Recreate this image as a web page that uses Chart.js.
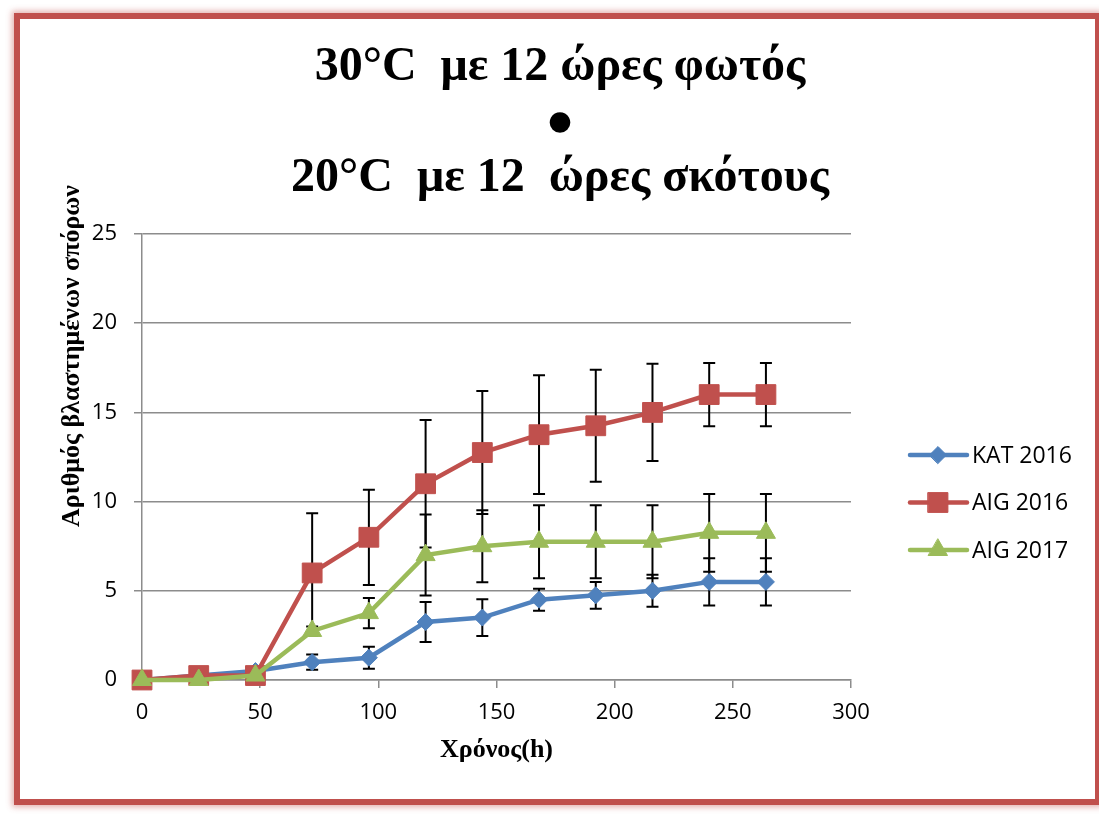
<!DOCTYPE html>
<html>
<head>
<meta charset="utf-8">
<script src="https://cdn.jsdelivr.net/npm/chart.js@4.4.0/dist/chart.umd.min.js"></script>
<style>
  html, body { margin: 0; padding: 0; background: #fff; }
  #wrap { position: relative; width: 1099px; height: 814px; overflow: hidden; }
  #frame {
    position: absolute; left: 14px; top: 13px; width: 1087px; height: 792px;
    box-sizing: border-box; border: 6px solid #c0504d;
    box-shadow: 0 0 6px 2px rgba(192, 80, 77, 0.45);
    pointer-events: none;
  }
  canvas { position: absolute; left: 0; top: 0; }
</style>
</head>
<body>
<div id="wrap">
  <canvas id="chart" width="1099" height="814"></canvas>
  <div id="frame"></div>
</div>
<script>
// time points (h)
const hours = [0, 24, 48, 72, 96, 120, 144, 168, 192, 216, 240, 264];

const seriesNames = ['KAT 2016', 'AIG 2016', 'AIG 2017'];
const seriesColors = ['#4f81bd', '#c0504d', '#9bbb59'];

// mean values
const kat2016 = [0, 0.25, 0.5, 1, 1.25, 3.25, 3.5, 4.5, 4.75, 5, 5.5, 5.5];
const aig2016 = [0, 0.25, 0.25, 6, 8, 11, 12.75, 13.75, 14.25, 15, 16, 16];
const aig2017 = [0, 0, 0.25, 2.75, 3.75, 7, 7.5, 7.75, 7.75, 7.75, 8.25, 8.25];

// error bar sizes (+/-)
const kat2016Err = [0, 0, 0, 0.43, 0.62, 1.12, 1.03, 0.62, 0.75, 0.9, 1.32, 1.32];
const aig2016Err = [0, 0, 0, 3.34, 2.67, 3.57, 3.45, 3.33, 3.14, 2.73, 1.77, 1.77];
const aig2017Err = [0, 0, 0, 0.25, 0.85, 2.27, 2.02, 2.05, 2.05, 2.05, 2.18, 2.18];

const xTicks = [0, 50, 100, 150, 200, 250, 300];
const yTicks = [0, 5, 10, 15, 20, 25];

const titleLines = ['30°C  με 12 ώρες φωτός', '●', '20°C  με 12  ώρες σκότους'];
const xTitle = 'Χρόνος(h)';
const yTitle = 'Αριθμός βλαστημένων σπόρων';

const gridColor = '#8c8c8c';
const tickFont = { family: 'Open Sans', size: 22 };

function toPoints(values) {
    return values.map((v, i) => ({ x: hours[i], y: v }));
}

// error bars, drawn under the lines and markers
const errorBars = {
    id: 'errorBars',
    beforeDatasetsDraw(chart) {
        const ctx = chart.ctx;
        const xs = chart.scales.x;
        const ys = chart.scales.y;
        ctx.save();
        ctx.strokeStyle = '#000';
        ctx.lineWidth = 2;
        chart.data.datasets.forEach(ds => {
            ds.errors.forEach((e, i) => {
                if (!e) return;
                const pt = ds.data[i];
                const px = xs.getPixelForValue(pt.x);
                const top = ys.getPixelForValue(pt.y + e);
                const bot = ys.getPixelForValue(pt.y - e);
                ctx.beginPath();
                ctx.moveTo(px, top);
                ctx.lineTo(px, bot);
                ctx.moveTo(px - 6, top);
                ctx.lineTo(px + 6, top);
                ctx.moveTo(px - 6, bot);
                ctx.lineTo(px + 6, bot);
                ctx.stroke();
            });
        });
        ctx.restore();
    }
};

// y axis title (sits higher than the axis centre) and the legend on the right
const extras = {
    id: 'extras',
    afterDraw(chart) {
        const ctx = chart.ctx;
        const area = chart.chartArea;

        ctx.save();
        ctx.translate(area.left - 70, area.top + 122);
        ctx.rotate(-Math.PI / 2);
        ctx.font = 'bold 26px "Liberation Serif"';
        ctx.fillStyle = '#000';
        ctx.textAlign = 'center';
        ctx.textBaseline = 'middle';
        ctx.fillText(yTitle, 0, 0);
        ctx.restore();

        const x0 = area.right + 59;
        chart.data.datasets.forEach((ds, i) => {
            const y = area.top + 221 + i * 47.5;
            ctx.save();
            ctx.strokeStyle = ds.borderColor;
            ctx.lineWidth = 4.5;
            ctx.lineCap = 'round';
            ctx.beginPath();
            ctx.moveTo(x0, y);
            ctx.lineTo(x0 + 57, y);
            ctx.stroke();
            ctx.fillStyle = ds.borderColor;
            ctx.lineWidth = 1;
            Chart.helpers.drawPoint(ctx, {
                pointStyle: ds.pointStyle,
                radius: ds.pointRadius,
                rotation: 0,
                borderWidth: 1
            }, x0 + 28, y);
            ctx.font = '23px "Open Sans"';
            ctx.fillStyle = '#000';
            ctx.textAlign = 'left';
            ctx.textBaseline = 'middle';
            ctx.fillText(ds.label, x0 + 62, y + 1);
            ctx.restore();
        });
    }
};

function makeDataset(i, values, errors, style, radius, order) {
    return {
        label: seriesNames[i],
        data: toPoints(values),
        errors: errors,
        borderColor: seriesColors[i],
        backgroundColor: seriesColors[i],
        pointBackgroundColor: seriesColors[i],
        pointBorderColor: seriesColors[i],
        borderWidth: 4.5,
        pointStyle: style,
        pointRadius: radius,
        pointBorderWidth: 1,
        tension: 0,
        fill: false,
        clip: false,
        order: order
    };
}

const ctx = document.getElementById('chart').getContext('2d');
new Chart(ctx, {
    type: 'line',
    data: {
        datasets: [
            makeDataset(0, kat2016, kat2016Err, 'rectRot', 8.5, 3),
            makeDataset(1, aig2016, aig2016Err, 'rect', 14, 2),
            makeDataset(2, aig2017, aig2017Err, 'triangle', 11, 1)
        ]
    },
    options: {
        responsive: false,
        animation: false,
        devicePixelRatio: 1,
        layout: { padding: { left: 21, right: 0, top: 14, bottom: 0 } },
        plugins: {
            legend: { display: false },
            tooltip: { enabled: false },
            title: {
                display: true,
                text: titleLines,
                color: '#000',
                font: { family: 'Liberation Serif', size: 48, weight: 'bold', lineHeight: 1.15 },
                padding: { top: 26.4, bottom: 28 }
            }
        },
        scales: {
            x: {
                type: 'linear',
                min: 0,
                max: 300,
                afterBuildTicks: scale => { scale.ticks = xTicks.map(v => ({ value: v })); },
                afterFit: scale => { scale.height = 134; },
                ticks: { color: '#000', font: tickFont, padding: 12, maxRotation: 0 },
                grid: { drawOnChartArea: false, drawTicks: true, tickLength: 8, color: gridColor, lineWidth: 1.5 },
                border: { color: gridColor, width: 1.5 },
                title: {
                    display: true,
                    text: xTitle,
                    color: '#000',
                    font: { family: 'Liberation Serif', size: 26, weight: 'bold' },
                    padding: { top: 0, bottom: 48 }
                }
            },
            y: {
                min: 0,
                max: 25,
                afterBuildTicks: scale => { scale.ticks = yTicks.map(v => ({ value: v })); },
                afterFit: scale => { scale.width = 121; },
                ticks: { color: '#000', font: tickFont, padding: 17 },
                grid: { color: gridColor, lineWidth: 1.5, tickLength: 8 },
                border: { color: gridColor, width: 1.5 }
            },
            legendSpace: {
                position: 'right',
                display: true,
                ticks: { display: false },
                grid: { display: false },
                border: { display: false },
                afterFit: scale => { scale.width = 248; }
            }
        }
    },
    plugins: [errorBars, extras]
});
</script>
</body>
</html>
